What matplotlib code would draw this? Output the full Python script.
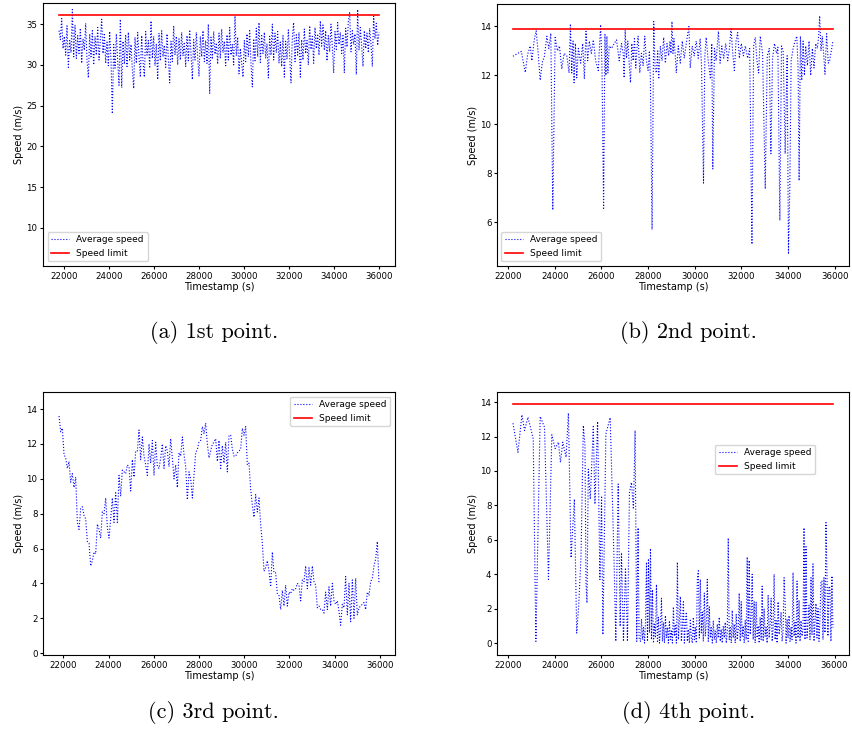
import numpy as np
import matplotlib
matplotlib.use("Agg")
import matplotlib.pyplot as plt

### speed limits (m/s)
LIMIT_130 = 36.11
LIMIT_50 = 13.89

### 1st point: evenly sampled timestamps
t_a_start, t_a_end = 21780, 36000
speed_a = [
    34.2, 33.1, 35.7, 32.0, 33.5, 31.2, 34.8, 29.7, 33.0, 31.5,
    36.8, 31.0, 34.9, 30.8, 33.6, 31.4, 34.5, 30.2, 33.2, 31.8,
    35.1, 30.5, 28.4, 33.8, 31.0, 34.2, 30.0, 33.5, 31.2, 34.6,
    30.6, 33.0, 35.6, 31.4, 33.9, 30.2, 32.8, 29.9, 34.1, 30.5,
    24.0, 32.5, 29.6, 33.8, 30.4, 27.5, 35.6, 27.2, 32.9, 30.1,
    33.7, 29.8, 34.0, 30.6, 32.5, 29.5, 27.1, 33.4, 30.2, 34.0,
    31.0, 28.5, 33.6, 30.4, 28.5, 34.1, 31.2, 33.0, 29.6, 35.4,
    30.8, 33.5, 29.9, 32.6, 28.2, 33.9, 30.5, 34.2, 31.0, 32.4,
    29.7, 33.8, 30.9, 27.8, 32.9, 30.4, 34.8, 31.2, 33.5, 30.0,
    33.2, 30.6, 34.0, 31.1, 32.8, 29.8, 33.6, 30.5, 34.3, 31.4,
    28.2, 33.1, 30.6, 34.0, 30.9, 28.6, 33.5, 31.0, 34.2, 30.4,
    33.0, 30.2, 35.0, 26.5, 33.4, 30.7, 34.1, 31.3, 32.7, 30.1,
    33.9, 30.8, 34.4, 31.5, 32.9, 29.9, 33.7, 30.6, 34.6, 31.2,
    32.5, 30.0, 36.0, 31.1, 33.4, 28.9, 32.0, 30.2, 28.5, 33.0,
    30.4, 33.8, 31.0, 34.2, 30.1, 27.3, 33.2, 30.5, 34.5, 31.0,
    35.2, 30.3, 33.6, 31.4, 34.0, 30.8, 32.6, 28.4, 33.5, 31.2,
    35.0, 30.6, 33.9, 31.5, 34.1, 30.2, 32.8, 29.8, 33.6, 28.5,
    32.9, 30.7, 34.3, 31.0, 27.8, 33.4, 35.2, 30.4, 33.7, 31.2,
    34.0, 28.5, 33.1, 30.6, 34.4, 31.4, 33.0, 30.0, 34.8, 31.9,
    33.5, 30.2, 34.6, 32.0, 33.8, 31.2, 35.4, 32.3, 34.9, 31.8,
    34.2, 30.5, 33.6, 31.6, 35.0, 32.2, 29.0, 34.1, 31.9, 35.2,
    32.5, 34.0, 31.4, 33.6, 29.0, 34.5, 32.2, 35.3, 36.5, 31.6,
    34.2, 32.5, 33.8, 28.8, 36.8, 31.8, 34.6, 32.4, 29.8, 34.2,
    32.0, 33.9, 31.5, 34.5, 32.6, 29.8, 36.0, 33.2, 35.1, 32.4,
    34.0,
]

### 2nd point: irregular timestamps
t_b = [
    22213, 22384, 22569, 22740, 22839, 22953, 23024, 23124, 23209, 23294,
    23380, 23479, 23550, 23664, 23750, 23835, 23920, 24020, 24120, 24205,
    24305, 24404, 24518, 24617, 24674, 24731, 24788, 24831, 24888, 24945,
    25016, 25115, 25201, 25272, 25343, 25414, 25485, 25570, 25656, 25755,
    25869, 25969, 26026, 26097, 26154, 26196, 26239, 26282, 26338, 26438,
    26552, 26651, 26765, 26865, 26936, 26978, 27021, 27078, 27135, 27192,
    27249, 27306, 27363, 27420, 27477, 27534, 27576, 27647, 27718, 27790,
    27861, 27932, 28003, 28060, 28103, 28174, 28245, 28302, 28359, 28416,
    28458, 28529, 28600, 28672, 28743, 28814, 28885, 28942, 28984, 29027,
    29070, 29113, 29169, 29212, 29297, 29383, 29468, 29553, 29639, 29752,
    29809, 29895, 29980, 30065, 30151, 30236, 30293, 30378, 30435, 30492,
    30578, 30677, 30734, 30776, 30848, 30919, 31018, 31089, 31161, 31246,
    31331, 31417, 31488, 31559, 31630, 31701, 31772, 31843, 31914, 32000,
    32085, 32171, 32270, 32356, 32455, 32526, 32597, 32668, 32740, 32811,
    32910, 33024, 33110, 33195, 33266, 33337, 33422, 33508, 33565, 33650,
    33721, 33792, 33878, 33963, 34020, 34077, 34134, 34219, 34304, 34375,
    34432, 34475, 34532, 34589, 34646, 34702, 34759, 34830, 34901, 34972,
    35043, 35114, 35185, 35256, 35313, 35356, 35413, 35470, 35526, 35583,
    35654, 35725, 35782, 35839, 35925,
]
speed_b = [
    12.78, 12.88, 12.98, 12.12, 12.85, 13.2, 12.6, 13.45, 13.82, 12.9,
    11.8, 12.6, 12.7, 13.6, 13.1, 13.72, 6.5, 13.55, 13.0, 13.2,
    12.26, 12.9, 12.8, 12.1, 14.1, 12.1, 13.4, 11.7, 13.3, 11.9,
    13.1, 12.5, 13.3, 11.85, 13.8, 12.6, 13.4, 12.9, 13.45, 12.6,
    12.2, 14.07, 12.4, 6.57, 13.7, 12.0, 13.6, 12.1, 13.2, 13.1,
    13.3, 13.45, 12.6, 13.3, 12.9, 11.9, 13.85, 12.7, 13.4, 12.5,
    11.7, 13.3, 12.6, 13.5, 12.3, 13.2, 13.6, 12.1, 12.9, 12.4,
    13.6, 12.6, 12.2, 13.0, 11.8, 5.7, 14.2, 12.3, 12.1, 13.0,
    11.85, 13.2, 12.6, 13.55, 12.5, 13.3, 12.8, 13.4, 12.9, 14.2,
    12.9, 13.5, 12.8, 12.1, 13.2, 12.5, 13.4, 12.7, 13.3, 14.0,
    12.3, 13.2, 12.8, 13.4, 12.7, 13.5, 12.4, 7.6, 12.8, 13.55,
    12.6, 11.85, 13.3, 8.18, 13.1, 12.6, 13.8, 12.5, 13.2, 12.7,
    13.3, 12.6, 13.1, 13.95, 12.9, 12.2, 13.4, 13.75, 12.7, 13.3,
    12.8, 13.2, 12.7, 13.1, 5.1, 13.2, 13.55, 12.6, 12.1, 13.6,
    12.9, 7.36, 12.8, 13.1, 8.8, 12.7, 13.3, 12.9, 13.15, 6.07,
    13.2, 13.0, 8.8, 12.8, 4.7, 7.4, 12.6, 13.1, 13.4, 13.6,
    12.3, 7.7, 13.6, 11.8, 13.4, 12.0, 13.2, 12.4, 13.4, 12.0,
    13.1, 12.3, 13.3, 13.1, 13.6, 14.43, 13.0, 13.6, 12.9, 12.05,
    13.7, 12.5, 12.6, 12.9, 13.4,
]

### 3rd point: evenly sampled timestamps
t_c_start, t_c_end = 21808, 35960
speed_c = [
    13.6, 12.7, 12.9, 11.4, 11.2, 10.6, 11.0, 9.8, 10.3, 9.5,
    10.1, 7.5, 7.1, 8.3, 8.4, 7.9, 7.7, 6.4, 6.3, 5.0,
    5.3, 5.8, 5.7, 7.4, 7.1, 6.6, 8.1, 8.0, 8.9, 7.2,
    6.6, 7.7, 8.9, 7.5, 9.2, 7.5, 10.2, 9.0, 10.5, 10.4,
    10.3, 10.8, 10.7, 9.3, 11.1, 10.1, 11.6, 11.6, 12.8, 11.1,
    12.4, 11.3, 10.8, 10.2, 12.0, 10.9, 12.2, 10.2, 12.1, 10.7,
    10.6, 11.2, 12.0, 10.6, 11.9, 11.6, 10.7, 12.3, 11.2, 10.0,
    10.8, 9.5, 11.5, 11.3, 12.4, 11.4, 10.7, 8.8, 10.4, 10.0,
    8.9, 10.2, 11.5, 11.7, 12.1, 12.2, 13.0, 12.6, 13.2, 12.0,
    11.2, 11.6, 12.0, 12.1, 12.3, 11.0, 12.2, 10.6, 11.9, 10.9,
    12.1, 10.4, 12.5, 12.5, 11.7, 11.3, 11.3, 11.5, 11.6, 11.7,
    12.9, 12.5, 13.0, 10.8, 10.9, 9.4, 8.5, 7.8, 9.1, 8.1,
    8.9, 7.4, 6.3, 4.7, 4.9, 5.3, 4.7, 3.8, 5.8, 4.6,
    4.6, 3.4, 3.3, 2.5, 3.6, 2.7, 3.9, 2.7, 3.5, 3.4,
    3.7, 3.6, 3.7, 4.0, 3.9, 3.0, 4.2, 4.1, 5.0, 3.7,
    4.9, 3.9, 5.0, 4.1, 3.9, 2.6, 2.7, 2.5, 2.5, 2.3,
    3.5, 2.5, 3.8, 2.7, 4.0, 3.0, 2.8, 3.0, 2.4, 1.6,
    2.8, 2.6, 4.4, 2.2, 4.0, 1.8, 4.2, 2.0, 4.3, 2.2,
    2.6, 2.7, 2.8, 2.9, 2.5, 3.5, 3.3, 4.1, 4.3, 5.0,
    5.4, 6.4, 4.0,
]

### 4th point: sparse first part, then evenly sampled
t_d_early = [
    22213, 22427, 22597, 22711, 22854, 22996, 23081, 23195, 23380, 23565,
    23735, 23878, 24020, 24162, 24248, 24347, 24489, 24589, 24703, 24845,
    24945, 25030, 25130, 25229, 25300, 25343, 25386, 25442, 25528, 25656,
    25727, 25841, 25940, 26011, 26068, 26196, 26381, 26552, 26623, 26723,
    26808, 26865, 26950, 27036, 27121, 27206, 27292, 27377, 27448, 27519,
    27576, 27619,
]
speed_d_early = [
    12.77, 11.08, 13.26, 12.35, 13.12, 12.35, 11.86, 0.1, 13.16, 12.54,
    3.7, 12.1, 11.3, 11.67, 10.5, 11.67, 10.8, 13.36, 4.96, 8.36,
    0.58, 2.14, 5.05, 12.64, 11.47, 3.5, 2.33, 10.1, 8.36, 12.58,
    8.07, 12.87, 3.69, 8.55, 0.49, 12.15, 13.1, 4.47, 0.1, 9.24,
    0.97, 5.25, 0.1, 4.37, 0.1, 8.75, 9.33, 7.78, 12.35, 0.1,
    6.7, 0.3,
]
t_d_late_start, t_d_late_end = 27680, 35929
speed_d_late = [
    0.1, 1.4, 0.2, 0.9, 0.0, 1.2, 4.7, 0.1, 4.9, 0.6,
    5.5, 0.2, 3.1, 0.0, 1.1, 0.3, 3.4, 0.1, 1.5, 0.0,
    0.8, 2.6, 0.1, 1.2, 0.0, 1.6, 0.3, 0.9, 0.0, 1.3,
    0.2, 0.7, 0.0, 2.1, 0.4, 1.1, 0.0, 4.7, 0.2, 1.3,
    2.7, 0.1, 0.9, 2.4, 0.0, 1.2, 1.8, 0.1, 0.8, 0.0,
    1.4, 0.3, 0.0, 1.5, 0.2, 0.9, 0.0, 3.7, 4.2, 0.3,
    3.7, 0.6, 1.8, 0.1, 2.9, 0.4, 1.2, 3.7, 0.1, 2.1,
    0.3, 0.9, 0.0, 1.3, 0.2, 0.7, 0.0, 1.1, 0.3, 1.5,
    0.1, 0.8, 0.0, 1.0, 0.3, 1.2, 0.0, 0.6, 6.1, 0.2,
    0.9, 0.0, 1.9, 0.3, 1.1, 0.0, 1.7, 0.2, 0.8, 2.9,
    0.1, 2.4, 0.4, 1.0, 0.0, 1.3, 0.2, 5.0, 0.1, 4.8,
    0.5, 1.6, 4.0, 0.2, 2.4, 0.0, 2.4, 0.3, 1.0, 0.0,
    1.5, 0.2, 3.3, 0.1, 2.0, 0.4, 0.9, 0.0, 2.8, 0.3,
    1.1, 2.6, 0.1, 0.8, 4.0, 0.2, 1.3, 0.0, 2.4, 0.5,
    1.0, 1.8, 0.1, 0.7, 3.8, 2.5, 0.0, 1.4, 0.3, 1.6,
    0.1, 0.9, 0.2, 4.1, 0.4, 1.2, 0.0, 3.6, 0.3, 2.5,
    0.1, 1.3, 0.4, 0.8, 6.7, 0.2, 5.6, 0.3, 1.1, 2.2,
    0.2, 3.8, 0.5, 4.6, 0.1, 1.2, 2.3, 0.3, 2.0, 0.1,
    1.4, 3.6, 3.6, 0.2, 3.8, 0.6, 7.0, 4.0, 0.4, 3.3,
    3.2, 0.1, 3.9, 0.9,
]

captions = ["(a) 1st point.", "(b) 2nd point.", "(c) 3rd point.", "(d) 4th point."]

### build the time axes
t_a = np.linspace(t_a_start, t_a_end, len(speed_a))
t_c = np.linspace(t_c_start, t_c_end, len(speed_c))
t_d = np.concatenate([t_d_early, np.linspace(t_d_late_start, t_d_late_end, len(speed_d_late))])
speed_d = speed_d_early + speed_d_late

fig = plt.figure(figsize=(8.52, 7.34), dpi=100)

### axes positions (figure fractions)
boxes = [
    [0.0505, 0.6376, 0.4131, 0.3583],
    [0.5833, 0.6376, 0.4131, 0.3570],
    [0.0505, 0.1076, 0.4131, 0.3583],
    [0.5833, 0.1076, 0.4131, 0.3583],
]
cap_pos = [(0.251, 0.5465), (0.808, 0.5465), (0.251, 0.0290), (0.808, 0.0290)]

panels = [
    (t_a, speed_a, LIMIT_130, "lower left"),
    (t_b, speed_b, LIMIT_50, "lower left"),
    (t_c, speed_c, None, "upper right"),
    (t_d, speed_d, LIMIT_50, "upper left"),
]

for i, (t, v, lim, loc) in enumerate(panels):
    ax = fig.add_axes(boxes[i])
    ax.plot(t, v, color="blue", linestyle=":", linewidth=0.8, label="Average speed")
    if lim is None:
        ax.plot([], [], color="red", linewidth=1.2, label="Speed limit")
    else:
        ax.plot(t, [lim] * len(t), color="red", linewidth=1.2, label="Speed limit")
    ax.set_xlabel("Timestamp (s)", fontsize=7, labelpad=1)
    ax.set_ylabel("Speed (m/s)", fontsize=7, labelpad=2)
    ax.tick_params(labelsize=6.2, length=2.5, pad=1.5)
    ax.set_xticks(range(22000, 36001, 2000))
    if loc == "upper left":
        ax.legend(loc=loc, bbox_to_anchor=(0.62, 0.80), borderaxespad=0, fontsize=6.5)
    else:
        ax.legend(loc=loc, fontsize=6.5)
    fig.text(cap_pos[i][0], cap_pos[i][1], captions[i], ha="center", va="center",
             fontsize=16, family="cmr10")

### fixed y ranges for panels (a) and (c)
fig.axes[0].set_ylim(5.3, 37.6)
fig.axes[0].set_yticks([10, 15, 20, 25, 30, 35])
fig.axes[2].set_ylim(-0.11, 14.98)
fig.axes[2].set_yticks(range(0, 15, 2))

plt.savefig("out.png", dpi=100)
